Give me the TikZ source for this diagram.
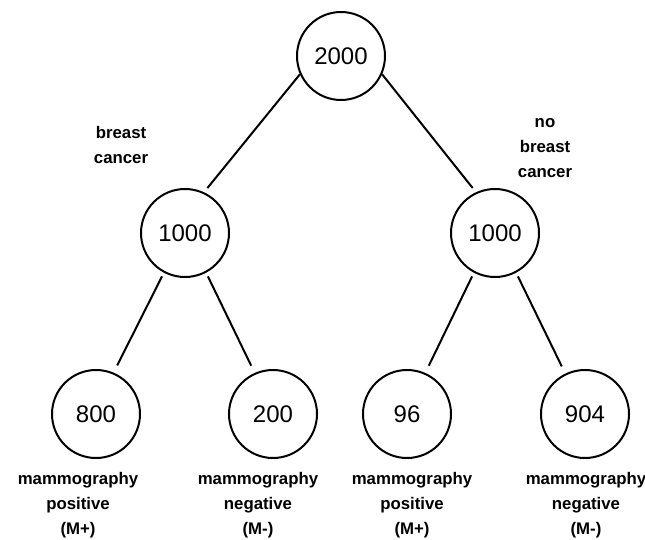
\documentclass[tikz,border=0pt]{standalone}
\usepackage{fontspec}
\setmainfont{Liberation Sans}
\begin{document}
\begin{tikzpicture}[x=0.75pt,y=-0.75pt,
  count/.style={circle,draw=black,line width=1.5pt,minimum size=66pt,inner sep=0pt,font=\fontsize{18}{20}\selectfont},
  tag/.style={align=center,font=\fontsize{12.6}{18.75}\selectfont\bfseries},
  link/.style={line width=1.5pt}]
\useasboundingbox (0,0) rectangle (645,539);
% counts
\node[count] (all) at (341,56) {2000};
\node[count] (bc) at (185,233) {1000};
\node[count] (nbc) at (495,233) {1000};
\node[count] (bcp) at (96,414) {800};
\node[count] (bcm) at (273,414) {200};
\node[count] (nbcp) at (407,414) {96};
\node[count] (nbcm) at (585,414) {904};
% branch labels
\node[tag] (lbc) at (121,145) {breast\\cancer};
\node[tag] (lnbc) at (545,148) {no\\breast\\cancer};
\node[tag] (lbcp) at (78,505) {mammography\\positive\\(M+)};
\node[tag] (lbcm) at (258,505) {mammography\\negative\\(M-)};
\node[tag] (lnbcp) at (412,505) {mammography\\positive\\(M+)};
\node[tag] (lnbcm) at (586,505) {mammography\\negative\\(M-)};
\draw[link,shorten >=4pt] (all.204)--(bc.65);
\draw[link,shorten >=4pt] (all.336)--(nbc.115);
\draw[link,shorten <=3pt,shorten >=6pt] (bc.242)--(bcp.67);
\draw[link,shorten <=3pt,shorten >=6pt] (bc.298)--(bcm.114);
\draw[link,shorten <=3pt,shorten >=6pt] (nbc.242)--(nbcp.66);
\draw[link,shorten <=3pt,shorten >=6pt] (nbc.298)--(nbcm.116);
\end{tikzpicture}
\end{document}
